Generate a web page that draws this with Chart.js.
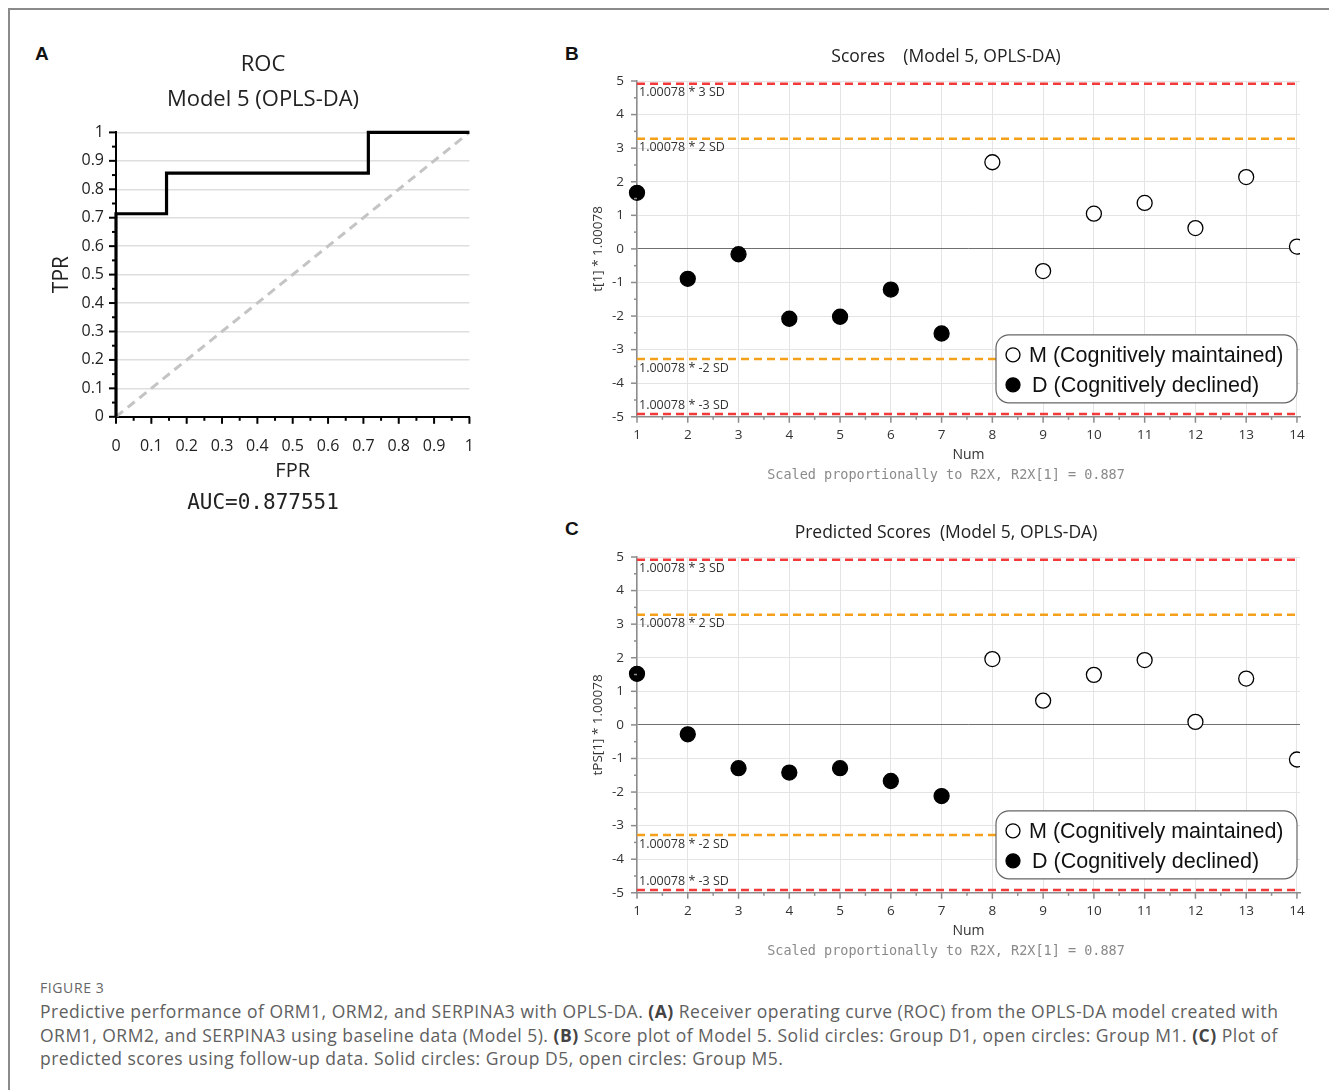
<!DOCTYPE html>
<html>
<head>
<meta charset="utf-8">
<script src="https://cdn.jsdelivr.net/npm/chart.js@4.4.0/dist/chart.umd.min.js"></script>
<style>
	body {
		margin: 0;
		width: 1329px;
		height: 1090px;
		position: relative;
		overflow: hidden;
		background: #fff;
		font-family: 'Open Sans', sans-serif;
	}
	.frame {
		position: absolute;
		left: 8px;
		top: 8px;
		width: 1340px;
		height: 1100px;
		border-left: 2px solid #8a8a8a;
		border-top: 2px solid #8a8a8a;
	}
	.letter {
		position: absolute;
		font: bold 19px 'Liberation Sans', Arial, sans-serif;
		color: #111;
	}
	canvas {
		position: absolute;
	}
	.fig-label {
		position: absolute;
		left: 40px;
		top: 978px;
		font-size: 14px;
		color: #666;
		letter-spacing: 0.6px;
	}
	.caption {
		position: absolute;
		left: 40px;
		top: 1000px;
		font-size: 17.5px;
		line-height: 23.5px;
		letter-spacing: 0.5px;
		color: #606060;
		white-space: nowrap;
	}
	.caption b {
		color: #444;
	}
</style>
</head>
<body>
<div class="frame"></div>
<div class="letter" style="left:35px; top:43px;">A</div>
<div class="letter" style="left:565px; top:43px;">B</div>
<div class="letter" style="left:565px; top:518px;">C</div>

<canvas id="rocChart" width="446" height="480" style="left:40px; top:40px;"></canvas>
<canvas id="scoresChart" width="760" height="450" style="left:565px; top:40px;"></canvas>
<canvas id="predChart" width="760" height="450" style="left:565px; top:516px;"></canvas>

<div class="fig-label">FIGURE 3</div>
<div class="caption">
Predictive performance of ORM1, ORM2, and SERPINA3 with OPLS-DA. <b>(A)</b> Receiver operating curve (ROC) from the OPLS-DA model created with<br>
ORM1, ORM2, and SERPINA3 using baseline data (Model 5). <b>(B)</b> Score plot of Model 5. Solid circles: Group D1, open circles: Group M1. <b>(C)</b> Plot of<br>
predicted scores using follow-up data. Solid circles: Group D5, open circles: Group M5.
</div>

<script>
// ROC curve (panel A)
const rocFpr = [0, 0, 0.143, 0.143, 0.714, 0.714, 1];
const rocTpr = [0, 0.714, 0.714, 0.857, 0.857, 1, 1];
const chanceFpr = [0, 1];
const chanceTpr = [0, 1];
const aucText = 'AUC=0.877551';

// score plots (panels B, C)
const numD = [1, 2, 3, 4, 5, 6, 7];
const numM = [8, 9, 10, 11, 12, 13, 14];
const scoresD = [1.67, -0.89, -0.16, -2.08, -2.02, -1.21, -2.52];
const scoresM = [2.58, -0.66, 1.05, 1.37, 0.62, 2.14, 0.07];
const predD = [1.52, -0.28, -1.29, -1.42, -1.29, -1.67, -2.12];
const predM = [1.96, 0.72, 1.49, 1.93, 0.09, 1.38, -1.03];
const sdLimits = [4.92, 3.28, -3.28, -4.92];
const sdLabels = ['1.00078 * 3 SD', '1.00078 * 2 SD', '1.00078 * -2 SD', '1.00078 * -3 SD'];
const sdColors = ['#f23a3a', '#f5a01a', '#f5a01a', '#f23a3a'];

const CHART_ROC = document.querySelector('#rocChart');
const CHART_SCORES = document.querySelector('#scoresChart');
const CHART_PRED = document.querySelector('#predChart');

const SANS = "'Open Sans', 'Noto Sans', sans-serif";
const MONO = "'DejaVu Sans Mono', 'Liberation Mono', monospace";

function onStep(v, step) {
	const r = v / step;
	return Math.abs(r - Math.round(r)) < 1e-6;
}

function toPoints(xs, ys) {
	return xs.map((x, i) => ({ x: x, y: ys[i] }));
}

// tick marks drawn by hand so majors and minors can differ in length
const tickMarksPlugin = {
	id: 'tickMarks',
	afterDatasetsDraw(chart, args, opts) {
		const ctx = chart.ctx;
		ctx.save();
		ctx.strokeStyle = opts.color;
		ctx.lineWidth = opts.width;
		['x', 'y'].forEach(id => {
			const scale = chart.scales[id];
			scale.ticks.forEach(t => {
				const len = onStep(t.value, opts.majorStep[id]) ? opts.major : opts.minor;
				const p = scale.getPixelForValue(t.value);
				ctx.beginPath();
				if (id === 'x') {
					ctx.moveTo(p, scale.top);
					ctx.lineTo(p, scale.top + len);
				} else {
					ctx.moveTo(scale.right, p);
					ctx.lineTo(scale.right - len, p);
				}
				ctx.stroke();
			});
		});
		ctx.restore();
	},
};

// SD labels under the dashed limit lines
const sdLabelPlugin = {
	id: 'sdLabels',
	afterDatasetsDraw(chart) {
		const ctx = chart.ctx;
		const area = chart.chartArea;
		const yScale = chart.scales.y;
		ctx.save();
		ctx.font = '12.5px ' + SANS;
		ctx.fillStyle = '#333';
		ctx.textBaseline = 'middle';
		chart.data.datasets.forEach(ds => {
			if (!ds.sdLabel) return;
			const py = yScale.getPixelForValue(ds.data[0].y);
			const ty = py + 20 > area.bottom ? py - 9 : py + 9;
			ctx.fillText(ds.sdLabel, area.left + 2, ty);
		});
		ctx.restore();
	},
};

// rounded legend box inside the plot area
const boxLegendPlugin = {
	id: 'boxLegend',
	afterDraw(chart) {
		const ctx = chart.ctx;
		const area = chart.chartArea;
		const w = 301;
		const h = 68;
		const x = area.right - 3 - w;
		const y = area.bottom - 14 - h;
		ctx.save();
		ctx.beginPath();
		ctx.roundRect(x, y, w, h, 13);
		ctx.fillStyle = '#fff';
		ctx.fill();
		ctx.strokeStyle = '#666';
		ctx.lineWidth = 1.2;
		ctx.stroke();
		const items = chart.data.datasets.filter(ds => ds.inLegend);
		items.sort((a, b) => a.legendRank - b.legendRank);
		ctx.font = "21.5px 'Liberation Sans', Arial, sans-serif";
		ctx.textBaseline = 'middle';
		items.forEach((ds, i) => {
			const cy = y + 20 + i * 30;
			ctx.beginPath();
			ctx.arc(x + 17, cy, 7, 0, Math.PI * 2);
			ctx.fillStyle = ds.backgroundColor;
			ctx.fill();
			ctx.strokeStyle = '#000';
			ctx.lineWidth = 1.3;
			ctx.stroke();
			ctx.fillStyle = '#111';
			ctx.fillText(ds.label, x + 33 + (i === 1 ? 3 : 0), cy + 1);
		});
		ctx.restore();
	},
};

const rocChart = new Chart(CHART_ROC.getContext('2d'), {
	type: 'scatter',
	data: {
		datasets: [
			{
				label: 'ROC',
				data: toPoints(rocFpr, rocTpr),
				showLine: true,
				borderColor: '#000',
				borderWidth: 3.2,
				pointRadius: 0,
				clip: 4,
			},
			{
				label: 'Chance',
				data: toPoints(chanceFpr, chanceTpr),
				showLine: true,
				borderColor: '#c4c4c4',
				borderWidth: 3,
				borderDash: [9, 6],
				pointRadius: 0,
			},
		],
	},
	options: {
		responsive: false,
		animation: false,
		// left padding shifts the centred title/subtitle to match the figure
		layout: { padding: { top: 0, right: 16, bottom: 4, left: 16 } },
		scales: {
			x: {
				type: 'linear',
				min: 0,
				max: 1,
				ticks: {
					stepSize: 0.05,
					autoSkip: false,
					maxRotation: 0,
					padding: 12,
					color: '#222',
					font: { family: SANS, size: 16 },
					callback: v => (onStep(v, 0.1) ? String(Math.round(v * 10) / 10) : ''),
				},
				grid: { display: false },
				border: { color: '#000', width: 2 },
				title: {
					display: true,
					text: 'FPR',
					color: '#222',
					font: { family: SANS, size: 20 },
					padding: { top: 0, bottom: 0 },
				},
				afterFit: s => {
					s.height = 66;
				},
			},
			y: {
				type: 'linear',
				min: 0,
				max: 1,
				ticks: {
					stepSize: 0.05,
					autoSkip: false,
					padding: 12,
					color: '#222',
					font: { family: SANS, size: 16 },
					callback: v => (onStep(v, 0.1) ? String(Math.round(v * 10) / 10) : ''),
				},
				grid: {
					drawTicks: false,
					lineWidth: 1.5,
					color: c => (c.tick && onStep(c.tick.value, 0.1) ? '#dedede' : 'rgba(0,0,0,0)'),
				},
				border: { color: '#000', width: 2 },
				title: {
					display: true,
					text: 'TPR',
					color: '#222',
					font: { family: SANS, size: 21 },
					padding: { top: -7, bottom: 0 },
				},
				afterFit: s => {
					s.width = 60;
				},
			},
		},
		plugins: {
			legend: { display: false },
			tooltip: { enabled: false },
			title: {
				display: true,
				text: ['ROC', 'Model 5 (OPLS-DA)'],
				color: '#222',
				font: { family: SANS, size: 22, weight: 'normal', lineHeight: 1.6 },
				padding: { top: 7, bottom: 15 },
			},
			subtitle: {
				display: true,
				position: 'bottom',
				text: aucText,
				color: '#222',
				font: { family: MONO, size: 21, weight: 'normal' },
				padding: { top: 8, bottom: 0 },
			},
			tickMarks: {
				color: '#000',
				width: 2,
				major: 7,
				minor: 4,
				majorStep: { x: 0.1, y: 0.1 },
			},
		},
	},
	plugins: [tickMarksPlugin],
});

function scoreChartOptions(titleText, yTitle, dVals, mVals) {
	const limitSets = sdLimits.map((v, i) => ({
		label: sdLabels[i],
		sdLabel: sdLabels[i],
		data: [{ x: 1, y: v }, { x: 14.06, y: v }],
		showLine: true,
		borderColor: sdColors[i],
		borderWidth: 2.5,
		borderDash: [8, 5],
		pointRadius: 0,
	}));
	return {
		type: 'scatter',
		data: {
			datasets: [
				{
					label: 'D (Cognitively declined)',
					inLegend: true,
					legendRank: 2,
					data: toPoints(numD, dVals),
					backgroundColor: '#000',
					borderColor: '#000',
					borderWidth: 1.3,
					pointRadius: 7.5,
					clip: { left: 12, top: 12, right: 0, bottom: 12 },
				},
				{
					label: 'M (Cognitively maintained)',
					inLegend: true,
					legendRank: 1,
					data: toPoints(numM, mVals),
					backgroundColor: '#fff',
					borderColor: '#000',
					borderWidth: 1.3,
					pointRadius: 7.5,
					clip: { left: 12, top: 12, right: 0, bottom: 12 },
				},
			].concat(limitSets),
		},
		options: {
			responsive: false,
			animation: false,
			// left padding shifts the centred title/subtitle to match the figure
			layout: { padding: { top: 0, right: 25, bottom: 6, left: 27 } },
			scales: {
				x: {
					type: 'linear',
					min: 1,
					max: 14.06,
					ticks: {
						stepSize: 0.5,
						includeBounds: false,
						autoSkip: false,
						maxRotation: 0,
						padding: 10,
						color: '#333',
						font: { family: SANS, size: 13.5 },
						callback: v => (onStep(v, 1) ? String(Math.round(v)) : ''),
					},
					grid: {
						drawTicks: false,
						color: c => (c.tick && onStep(c.tick.value, 1) ? '#e4e4e4' : 'rgba(0,0,0,0)'),
					},
					border: { color: '#8c8c8c', width: 1.5 },
					title: {
						display: true,
						text: 'Num',
						color: '#333',
						font: { family: SANS, size: 14 },
						padding: { top: 0, bottom: 0 },
					},
					afterFit: s => {
						s.height = 47;
					},
				},
				y: {
					type: 'linear',
					min: -5,
					max: 5,
					ticks: {
						stepSize: 0.5,
						autoSkip: false,
						padding: 13,
						color: '#333',
						font: { family: SANS, size: 13.5 },
						callback: v => (onStep(v, 1) ? String(Math.round(v)) : ''),
					},
					grid: {
						drawTicks: false,
						color: c => {
							if (!c.tick) return 'rgba(0,0,0,0)';
							if (Math.abs(c.tick.value) < 1e-6) return '#707070';
							return onStep(c.tick.value, 1) ? '#e4e4e4' : 'rgba(0,0,0,0)';
						},
					},
					border: { color: '#8c8c8c', width: 1.5 },
					title: {
						display: true,
						text: yTitle,
						color: '#333',
						font: { family: SANS, size: 13.5 },
						padding: { top: -2, bottom: 0 },
					},
					afterFit: s => {
						s.width = 45;
					},
				},
			},
			plugins: {
				legend: { display: false },
				tooltip: { enabled: false },
				title: {
					display: true,
					text: titleText,
					color: '#222',
					font: { family: SANS, size: 17.5, weight: 'normal' },
					padding: { top: 7, bottom: 13 },
				},
				subtitle: {
					display: true,
					position: 'bottom',
					text: 'Scaled proportionally to R2X, R2X[1] = 0.887',
					color: '#8a8a8a',
					font: { family: MONO, size: 13.5, weight: 'normal' },
					padding: { top: 4, bottom: 0 },
				},
				tickMarks: {
					color: '#8c8c8c',
					width: 1.5,
					major: 6,
					minor: 3,
					majorStep: { x: 1, y: 1 },
				},
			},
		},
		plugins: [tickMarksPlugin, sdLabelPlugin, boxLegendPlugin],
	};
}

const scoresChart = new Chart(
	CHART_SCORES.getContext('2d'),
	scoreChartOptions('Scores    (Model 5, OPLS-DA)', 't[1] * 1.00078', scoresD, scoresM)
);

const predChart = new Chart(
	CHART_PRED.getContext('2d'),
	scoreChartOptions('Predicted Scores  (Model 5, OPLS-DA)', 'tPS[1] * 1.00078', predD, predM)
);
</script>
</body>
</html>
